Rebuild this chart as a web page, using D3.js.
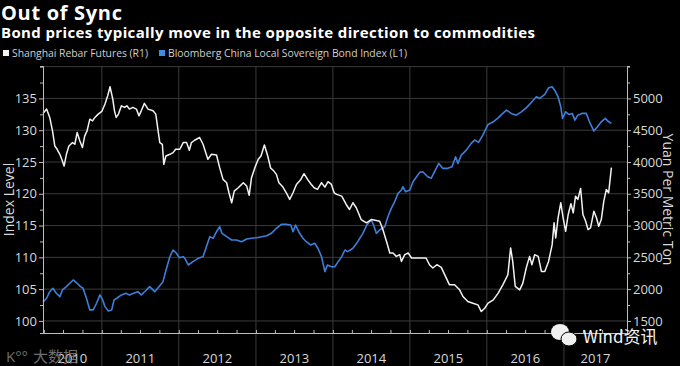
<!DOCTYPE html>
<html>
<head>
<meta charset="utf-8">
<script src="https://cdn.jsdelivr.net/npm/d3@7"></script>
<style>
  body { margin: 0; background: #000; }
  text { font-family: "Open Sans", sans-serif; }
</style>
</head>
<body>
<div id="chart"></div>
<script>
// Shanghai rebar futures, yuan per metric ton (right axis)
var rebarDates = ["2010-03-28","2010-04-14","2010-04-29","2010-05-12","2010-05-23","2010-06-03","2010-06-16","2010-06-28","2010-07-06","2010-07-17","2010-07-29","2010-08-15","2010-08-26","2010-09-06","2010-09-19","2010-10-01","2010-10-12","2010-10-23","2010-11-05","2010-11-18","2010-11-29","2010-12-15",
  "2011-01-01","2011-01-16","2011-01-29","2011-02-09","2011-02-22","2011-03-02","2011-03-10","2011-03-21","2011-04-04","2011-04-19","2011-04-30","2011-05-12","2011-05-28","2011-06-14","2011-06-26","2011-07-07","2011-07-22","2011-08-08","2011-09-01","2011-09-14","2011-09-25","2011-10-03","2011-10-15","2011-10-22","2011-11-01","2011-11-20","2011-12-05","2011-12-17",
  "2012-01-06","2012-01-22","2012-02-07","2012-02-20","2012-03-01","2012-03-16","2012-04-09","2012-04-25","2012-05-18","2012-06-04","2012-06-28","2012-07-13","2012-07-29","2012-08-15","2012-08-26","2012-09-08","2012-09-20","2012-10-09","2012-11-02","2012-11-18","2012-11-30","2012-12-11","2012-12-27",
  "2013-01-12","2013-01-25","2013-02-10","2013-02-26","2013-03-11","2013-03-27","2013-04-08","2013-04-20","2013-05-09","2013-05-25","2013-06-10","2013-06-26","2013-07-12","2013-08-02","2013-08-17","2013-09-03","2013-09-18","2013-10-04","2013-10-20","2013-11-08","2013-11-24","2013-12-09","2013-12-25",
  "2014-01-07","2014-01-19","2014-02-12","2014-03-05","2014-03-21","2014-04-06","2014-04-22","2014-05-15","2014-06-09","2014-07-02","2014-07-26","2014-08-11","2014-08-26","2014-09-12","2014-09-28","2014-10-13","2014-10-29","2014-11-14","2014-11-22","2014-12-08","2014-12-24",
  "2015-01-09","2015-02-02","2015-02-26","2015-03-19","2015-04-04","2015-04-20","2015-05-09","2015-05-30","2015-06-23","2015-07-08","2015-08-01","2015-08-25","2015-09-10","2015-10-03","2015-10-27","2015-11-20","2015-12-06","2015-12-22",
  "2016-01-07","2016-02-01","2016-02-24","2016-03-17","2016-04-10","2016-04-23","2016-05-03","2016-05-15","2016-06-05","2016-06-20","2016-07-06","2016-07-22","2016-08-02","2016-08-15","2016-09-01","2016-09-16","2016-10-02","2016-10-20","2016-11-06","2016-11-15","2016-11-23","2016-12-04","2016-12-17","2016-12-28",
  "2017-01-09","2017-01-21","2017-02-03","2017-02-14","2017-02-25","2017-03-08","2017-03-21","2017-04-01","2017-04-14","2017-04-25","2017-05-07","2017-05-23","2017-06-04","2017-06-15","2017-06-27","2017-07-09","2017-07-21","2017-08-01","2017-08-14"];
var rebarValues = [4764,4832,4701,4489,4252,4200,4121,4015,3936,4121,4252,4306,4279,4464,4331,4227,4410,4489,4674,4647,4701,4753,
  4795,4911,5042,5184,4990,4805,4701,4753,4884,4859,4884,4832,4859,4832,4726,4805,4922,4832,4805,4753,4489,4306,4279,3963,4094,4121,4148,4200,
  4200,4306,4306,4184,4306,4342,4385,4279,4042,4121,4110,3911,3726,3674,3516,3359,3542,3595,3674,3621,3478,3753,3911,
  4042,4094,4268,4094,3911,3857,3805,3674,3605,3516,3411,3516,3647,3726,3816,3726,3658,3595,3568,3674,3605,3690,3647,
  3516,3490,3463,3332,3253,3359,3280,3095,3043,3095,3079,3068,2937,2752,2569,2569,2515,2542,2436,2542,2569,
  2490,2490,2490,2490,2384,2332,2384,2342,2174,2068,2068,1989,1884,1805,1779,1753,1647,1700,
  1779,1832,1937,2068,2226,2648,2436,2042,1989,2095,2332,2515,2384,2542,2515,2278,2278,2436,2700,3043,2806,3122,3359,3122,
  2910,3174,3343,3201,3463,3411,3584,3174,3068,2937,2964,3226,3122,2989,3095,3384,3568,3516,3911];

// Bloomberg China Local Sovereign Bond Index (left axis)
var bondDates = ["2010-03-28","2010-04-14","2010-04-29","2010-05-14","2010-05-30","2010-06-16","2010-06-28","2010-07-17","2010-08-02","2010-08-18","2010-09-06","2010-09-22","2010-10-04","2010-10-20","2010-11-05","2010-11-21","2010-12-07","2010-12-23",
  "2011-01-05","2011-01-16","2011-02-01","2011-02-17","2011-02-28","2011-03-13","2011-04-04","2011-04-24","2011-05-12","2011-06-01","2011-06-21","2011-07-07","2011-07-27","2011-08-16","2011-09-09","2011-09-29","2011-10-18","2011-11-04","2011-11-20","2011-12-05","2011-12-21",
  "2012-01-03","2012-01-22","2012-01-30","2012-02-15","2012-03-08","2012-04-02","2012-04-25","2012-05-11","2012-05-27","2012-06-12","2012-06-28","2012-07-13","2012-07-24","2012-08-15","2012-09-08","2012-10-01","2012-10-25","2012-11-18","2012-12-11",
  "2013-01-05","2013-01-28","2013-02-21","2013-03-15","2013-04-08","2013-05-01","2013-05-25","2013-06-15","2013-06-26","2013-07-08","2013-07-27","2013-08-12","2013-08-28","2013-09-18","2013-10-07","2013-10-22","2013-11-08","2013-11-24","2013-12-06","2013-12-25",
  "2014-01-10","2014-01-26","2014-02-12","2014-02-27","2014-03-12","2014-04-06","2014-04-29","2014-05-23","2014-06-11","2014-07-02","2014-07-13","2014-07-26","2014-08-11","2014-09-04","2014-09-19","2014-10-05","2014-10-21","2014-11-06","2014-11-22","2014-11-29","2014-12-12",
  "2015-01-01","2015-01-16","2015-02-02","2015-02-17","2015-03-03","2015-03-27","2015-04-12","2015-05-02","2015-05-18","2015-06-06","2015-06-30","2015-07-20","2015-08-06","2015-08-17","2015-09-02","2015-09-26","2015-10-19","2015-11-04","2015-11-23","2015-12-13",
  "2016-01-07","2016-02-01","2016-02-24","2016-03-17","2016-04-03","2016-04-26","2016-05-20","2016-06-13","2016-07-06","2016-07-30","2016-08-23","2016-09-08","2016-10-02","2016-10-20","2016-11-06","2016-11-18","2016-12-04","2016-12-17","2016-12-25",
  "2017-01-09","2017-01-24","2017-02-09","2017-02-22","2017-03-08","2017-03-27","2017-04-17","2017-05-02","2017-05-23","2017-06-09","2017-06-27","2017-07-16","2017-08-01","2017-08-14"];
var bondValues = [102.94,103.57,104.6,105.14,104.35,103.82,104.87,105.39,105.92,106.44,105.92,105.39,105.14,103.57,101.73,101.73,102.78,104.09,
  103.3,102.25,101.57,101.73,103.3,103.57,104.09,104.35,104.09,104.35,104.6,104.09,104.71,105.39,104.6,105.39,106.18,108.28,110.11,111.16,110.64,
  109.95,110.11,109.85,108.8,109.32,109.85,110.11,111.68,113.25,113.0,114.03,114.82,113.78,113.25,112.73,112.73,112.46,112.89,113.0,
  113.09,113.25,113.41,113.78,114.57,115.2,115.2,115.09,114.03,115.09,113.78,113.0,112.46,111.94,112.21,111.43,110.11,107.75,108.8,108.53,
  108.53,109.32,110.11,111.16,110.89,111.43,112.46,113.78,115.09,115.87,115.09,113.78,114.3,114.82,116.39,117.71,118.75,120.07,120.59,121.11,120.32,
  120.59,121.89,122.68,123.37,123.46,122.68,122.43,123.73,124.78,124.0,124.0,124.25,125.82,124.78,126.09,126.87,127.93,128.45,128.08,129.23,
  130.91,131.32,131.95,132.64,133.16,132.64,132.37,132.89,133.52,134.37,135.25,135.0,135.63,136.66,136.82,136.3,135.25,133.68,131.86,
  132.89,132.48,132.64,131.59,132.37,132.64,132.64,131.32,129.86,130.54,131.32,131.86,131.32,131.07];

var leftTicks = [100, 105, 110, 115, 120, 125, 130, 135];
var rightTicks = [1500, 2000, 2500, 3000, 3500, 4000, 4500, 5000];
var years = [2010, 2011, 2012, 2013, 2014, 2015, 2016, 2017];

function main() {
  var W = 680, H = 366;
  var plotLeft = 43, plotRight = 627, plotTop = 66, plotBottom = 333;
  var gridColor = "#3a3a3a", axisColor = "#bdbdbd", labelColor = "#d9d9d9";
  var rebarColor = "#f2f2f2", bondColor = "#3d7fd9";

  var parse = d3.timeParse("%Y-%m-%d");
  var rebar = rebarDates.map(function (d, i) { return { date: parse(d), value: rebarValues[i] }; });
  var bond = bondDates.map(function (d, i) { return { date: parse(d), value: bondValues[i] }; });

  var svg = d3.select("#chart").append("svg")
    .attr("width", W).attr("height", H)
    .style("background", "#000");

  // stretch a text to a measured width with letter spacing
  function fitWidth(sel, target) {
    sel.each(function () {
      var len = this.getComputedTextLength();
      var n = this.textContent.length;
      d3.select(this).style("letter-spacing", ((target - len) / (n - 1)) + "px");
    });
  }

  // scales
  var x = d3.scaleTime()
    .domain([parse("2010-03-28"), parse("2017-10-27")])
    .range([plotLeft, plotRight]);
  var yL = d3.scaleLinear().domain([98.1, 140.1]).range([plotBottom, plotTop]);
  var yR = d3.scaleLinear().domain([1310, 5510]).range([plotBottom, plotTop]);

  // horizontal grid
  svg.append("g").selectAll("line")
    .data(leftTicks.concat([140]))
    .enter().append("line")
    .attr("x1", plotLeft).attr("x2", plotRight)
    .attr("y1", function (d) { return yL(d); })
    .attr("y2", function (d) { return yL(d); })
    .attr("stroke", gridColor).attr("stroke-width", 1);

  // vertical year grid, running down through the label band
  var yearStarts = years.slice(1).map(function (y) { return new Date(y, 0, 1); });
  svg.append("g").selectAll("line")
    .data(yearStarts)
    .enter().append("line")
    .attr("x1", function (d) { return x(d); })
    .attr("x2", function (d) { return x(d); })
    .attr("y1", plotTop).attr("y2", H)
    .attr("stroke", gridColor).attr("stroke-width", 1);

  // lines
  var lineR = d3.line().x(function (d) { return x(d.date); }).y(function (d) { return yR(d.value); });
  var lineL = d3.line().x(function (d) { return x(d.date); }).y(function (d) { return yL(d.value); });

  svg.append("path").datum(bond)
    .attr("d", lineL).attr("fill", "none")
    .attr("stroke", bondColor).attr("stroke-width", 1.6)
    .attr("stroke-linejoin", "round");
  svg.append("path").datum(rebar)
    .attr("d", lineR).attr("fill", "none")
    .attr("stroke", rebarColor).attr("stroke-width", 1.5)
    .attr("stroke-linejoin", "round");

  function styleAxis(g) {
    g.select(".domain").attr("stroke", axisColor);
    g.selectAll(".tick line").attr("stroke", axisColor);
    g.selectAll(".tick text").attr("fill", labelColor)
      .style("font-family", "'Open Sans', sans-serif").style("font-size", "13px");
  }

  // left axis: minor then major
  var minorL = d3.range(97.5, 141, 2.5).filter(function (v) { return v > 98.1 && v % 5 !== 0; });
  svg.append("g").attr("transform", "translate(" + plotLeft + ",0)")
    .call(d3.axisLeft(yL).tickValues(minorL.concat([140])).tickSize(3).tickFormat(""))
    .call(styleAxis);
  svg.append("g").attr("transform", "translate(" + plotLeft + ",0)")
    .call(d3.axisLeft(yL).tickValues(leftTicks).tickSize(4).tickPadding(2).tickSizeOuter(0))
    .call(styleAxis);

  // right axis
  var minorR = d3.range(1250, 5600, 250).filter(function (v) { return v > 1310 && v % 500 !== 0; });
  svg.append("g").attr("transform", "translate(" + plotRight + ",0)")
    .call(d3.axisRight(yR).tickValues(minorR.concat([5500])).tickSize(3).tickFormat(""))
    .call(styleAxis);
  svg.append("g").attr("transform", "translate(" + plotRight + ",0)")
    .call(d3.axisRight(yR).tickValues(rightTicks).tickSize(4).tickPadding(2).tickSizeOuter(0)
      .tickFormat(d3.format("d")))
    .call(styleAxis);

  // bottom axis with small quarter ticks pointing up
  svg.append("g").attr("transform", "translate(0," + plotBottom + ")")
    .call(d3.axisBottom(x).ticks(d3.timeMonth.every(3)).tickSize(-3).tickSizeOuter(0).tickFormat(""))
    .call(styleAxis);

  // year labels centred in each visible year
  var dom = x.domain();
  svg.append("g").selectAll("text")
    .data(years)
    .enter().append("text")
    .attr("x", function (y) {
      var a = Math.max(+new Date(y, 0, 1), +dom[0]);
      var b = Math.min(+new Date(y + 1, 0, 1), +dom[1]);
      return (x(new Date(a)) + x(new Date(b))) / 2;
    })
    .attr("y", 363)
    .attr("text-anchor", "middle")
    .attr("fill", labelColor)
    .style("font-size", "13px")
    .text(function (y) { return y; });

  // axis titles
  svg.append("text")
    .attr("transform", "translate(14," + ((plotTop + plotBottom) / 2) + ") rotate(-90)")
    .attr("text-anchor", "middle")
    .attr("fill", labelColor)
    .style("font-size", "14px")
    .text("Index Level");
  svg.append("text")
    .attr("transform", "translate(663," + ((plotTop + plotBottom) / 2) + ") rotate(90)")
    .attr("text-anchor", "middle")
    .attr("fill", labelColor)
    .style("font-size", "14px")
    .text("Yuan Per Metric Ton");

  // title and subtitle
  svg.append("text").attr("x", 1).attr("y", 20)
    .attr("fill", "#fff").style("font-size", "20px").style("font-weight", "bold")
    .text("Out of Sync")
    .call(fitWidth, 121);
  svg.append("text").attr("x", 1).attr("y", 38)
    .attr("fill", "#fff").style("font-size", "15px").style("font-weight", "bold")
    .text("Bond prices typically move in the opposite direction to commodities")
    .call(fitWidth, 534);

  // legend
  var legend = [
    { label: "Shanghai Rebar Futures (R1)", color: rebarColor, x: 3, w: 136 },
    { label: "Bloomberg China Local Sovereign Bond Index (L1)", color: "#3d8de6", x: 159, w: 239 }
  ];
  var lg = svg.append("g").selectAll("g").data(legend).enter().append("g")
    .attr("transform", function (d) { return "translate(" + d.x + ",50)"; });
  lg.append("rect").attr("width", 6).attr("height", 6).attr("y", 0)
    .attr("fill", function (d) { return d.color; });
  lg.append("text").attr("x", 9).attr("y", 7)
    .attr("fill", "#cfcfcf").style("font-size", "10.4px")
    .text(function (d) { return d.label; })
    .each(function (d) { d3.select(this).call(fitWidth, d.w); });

  // watermarks
  var wm = svg.append("g");
  wm.append("ellipse").attr("cx", 560).attr("cy", 332).attr("rx", 9).attr("ry", 8).attr("fill", "#f0f0f0");
  wm.append("ellipse").attr("cx", 569).attr("cy", 339).attr("rx", 8).attr("ry", 7).attr("fill", "#f0f0f0")
    .attr("stroke", "#000").attr("stroke-width", 1);
  wm.append("text").attr("x", 583).attr("y", 343)
    .attr("fill", "#f4f4f4").style("font-family", "'Noto Sans CJK SC', sans-serif").style("font-size", "17px")
    .text("Wind资讯");
  wm.append("text").attr("x", 6).attr("y", 362)
    .attr("fill", "#8a8a8a").attr("opacity", 0.8).style("font-size", "15px")
    .text("K°°");
  wm.append("text").attr("x", 33).attr("y", 362)
    .attr("fill", "#8a8a8a").attr("opacity", 0.8).style("font-family", "'Noto Sans CJK SC', sans-serif").style("font-size", "15px")
    .text("大数据");
}
window.addEventListener("load", main);
</script>
</body>
</html>
